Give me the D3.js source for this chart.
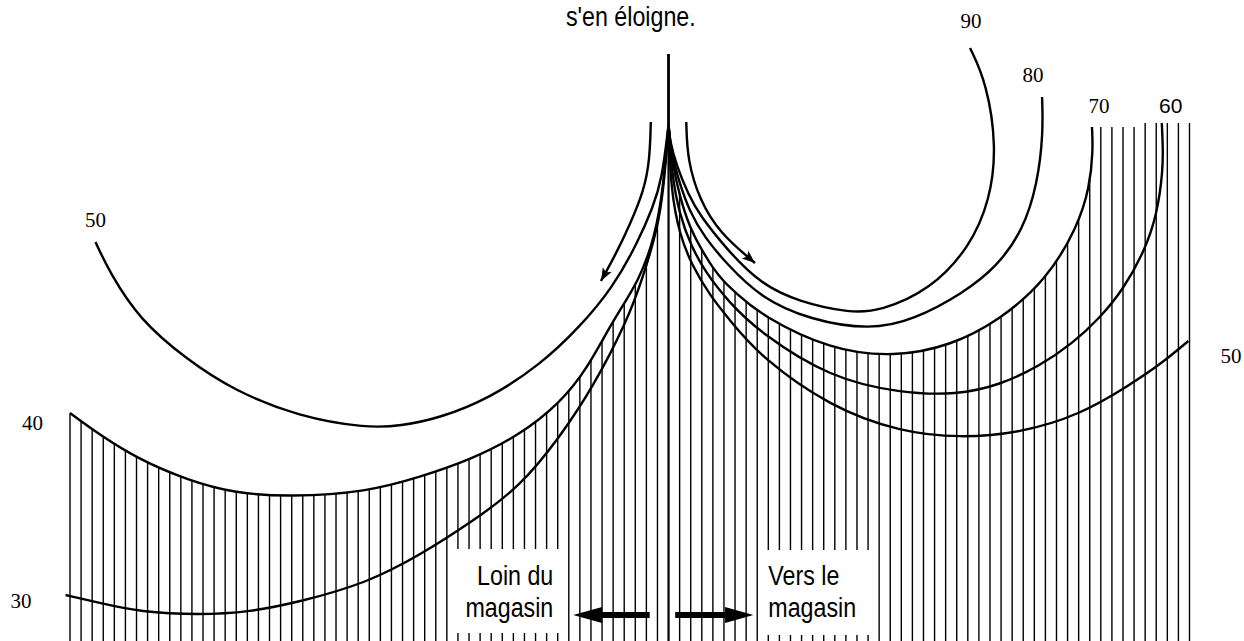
<!DOCTYPE html>
<html lang="fr">
<head>
<meta charset="UTF-8">
<title>Loin du magasin / Vers le magasin</title>
<script src="https://cdn.jsdelivr.net/npm/d3@7"></script>
<style>
  html, body { margin: 0; padding: 0; background: #fff; }
  svg { display: block; }
</style>
</head>
<body>
<svg id="chart" width="1244" height="641"></svg>
<script>
// x : position along the street, in hatch steps from the centre line
// y : height above the bottom edge
const left50 = [[0,516],[-0.6,461],[-1.4,434],[-2.8,398],[-5.0,354],[-8.0,314],[-11.6,276],[-16.1,243],[-20.6,223],[-24.2,215],[-27.2,213],[-33.3,224],[-39.3,251],[-43.4,281],[-47.7,321],[-50.4,368],[-51.7,399]];
const left40 = [[0,516],[-0.5,451],[-1.2,406],[-2.6,361],[-5.0,321],[-7.4,271],[-9.8,238],[-13.4,206],[-17.9,181],[-22.4,164],[-27.2,149],[-34.1,144],[-39.3,148],[-43.4,161],[-47.7,181],[-51.3,206],[-54.0,228]];
const left30 = [[0,516],[-0.4,456],[-1.0,411],[-2.4,361],[-3.7,321],[-6.8,254],[-9.8,204],[-13.4,154],[-17.9,118],[-22.4,86],[-27.2,58],[-33.3,39],[-37.8,29],[-42.3,26],[-47.7,29],[-51.3,38],[-54.4,46]];
const right90 = [[0,516],[0.1,501],[0.7,476],[1.8,446],[2.8,426],[5.3,391],[8.3,357],[11.8,339],[16.4,328],[19.1,330],[23.6,351],[27.2,394],[29.0,441],[29.6,494],[28.7,558],[27.2,593]];
const right80 = [[0,516],[0.2,491],[0.9,461],[1.9,429],[3.3,403],[5.1,379],[8.3,343],[12.8,321],[18.2,311],[22.1,321],[26.6,348],[29.6,374],[32.0,411],[33.3,458],[33.8,508],[33.7,544]];
const right70 = [[0,516],[0.3,481],[1.0,444],[2.0,411],[3.0,391],[4.0,373],[5.0,359],[6.1,348],[8.3,326],[14.6,291],[20.4,284],[25.4,295],[29.9,321],[34.1,361],[36.9,414],[38.0,454],[38.3,491],[38.2,514]];
const right60 = [[0,516],[0.3,466],[1.0,426],[2.0,396],[3.3,369],[5.5,338],[8.3,308],[14.6,263],[20.9,248],[26.0,246],[29.9,256],[33.5,275],[36.5,298],[38.9,323],[41.0,351],[43.0,391],[44.1,428],[44.6,471],[44.6,494],[44.5,518]];
const right50 = [[0,516],[0.2,451],[1.0,406],[2.1,376],[3.7,346],[5.5,321],[8.3,284],[14.6,234],[20.9,209],[26.3,203],[31.7,208],[37.1,226],[41.6,256],[44.3,276],[46.9,300]];

// short arcs showing the direction of movement
const arrowLeft = [[-1.6,519],[-1.7,481],[-2.2,451],[-3.5,416],[-4.8,386],[-6.1,360]];
const arrowRight = [[1.6,519],[1.7,481],[2.8,441],[4.6,408],[7.8,378]];

// hatching: one line per step, centre line rises to the stem top
const hatchSteps = d3.range(-54, 48);
const stemTop = 587;
const capSteps = [39, 40, 41, 42, 43, 44, 45, 46, 47];
const capHeights = [514, 514, 514, 514, 518, 518, 518, 518, 518];

const curveLabels = ['50', '40', '30', '90', '80', '70', '60', '50'];
const title = "s'en éloigne.";
const awayText = ['Loin du', 'magasin'];
const towardText = ['Vers le', 'magasin'];

const svg = d3.select('#chart');
const x = d3.scaleLinear().domain([-54, 47]).range([70, 1189.5]);
const y = d3.scaleLinear().domain([0, 641]).range([641, 0]);

const line = d3.line().x(d => x(d[0])).y(d => y(d[1])).curve(d3.curveBasis);

const curves = [
  { pts: left50,  label: curveLabels[0], dx: 0,   dy: -15, anchor: 'middle', serif: true },
  { pts: left40,  label: curveLabels[1], dx: -27, dy: 17,  anchor: 'end',    serif: true },
  { pts: left30,  label: curveLabels[2], dx: -34, dy: 13,  anchor: 'end',    serif: true },
  { pts: right90, label: curveLabels[3], dx: 1,   dy: -20, anchor: 'middle', serif: true },
  { pts: right80, label: curveLabels[4], dx: -9,  dy: -15, anchor: 'middle', serif: true },
  { pts: right70, label: curveLabels[5], dx: 7,   dy: -14, anchor: 'middle', serif: true },
  { pts: right60, label: curveLabels[6], dx: 9,   dy: -10, anchor: 'middle', serif: false },
  { pts: right50, label: curveLabels[7], dx: 32,  dy: 22,  anchor: 'start',  serif: true }
];

// sample an envelope path so each hatch line stops on it
function envelope(pts) {
  const p = svg.append('path').attr('d', line(pts)).attr('fill', 'none').attr('stroke', 'none');
  const node = p.node();
  const len = node.getTotalLength();
  const samples = d3.range(0, len, 0.4).map(l => node.getPointAtLength(l));
  p.remove();
  return px => {
    let best = samples[0];
    for (const s of samples) {
      if (Math.abs(s.x - px) < Math.abs(best.x - px)) best = s;
    }
    return best.y;
  };
}
const leftTop = envelope(left40);
const rightTop = envelope(right70);

const hatch = svg.append('g').attr('stroke', '#000');
hatchSteps.forEach(s => {
  const px = x(s);
  let top;
  if (s < 0) top = leftTop(px);
  else if (s === 0) top = y(stemTop);
  else if (capSteps.includes(s)) top = y(capHeights[capSteps.indexOf(s)]);
  else top = rightTop(px);
  hatch.append('line')
    .attr('x1', px).attr('x2', px)
    .attr('y1', y(0)).attr('y2', top)
    .attr('stroke-width', s === 0 ? 2.2 : 1.4);
});

// white boxes behind the direction texts
svg.append('rect').attr('x', x(-19.7)).attr('y', y(92))
  .attr('width', x(-9.5) - x(-19.7)).attr('height', y(8) - y(92)).attr('fill', '#fff');
svg.append('rect').attr('x', x(8.5)).attr('y', y(91))
  .attr('width', x(18.4) - x(8.5)).attr('height', y(6) - y(91)).attr('fill', '#fff');

// condensed sans text (no narrow face installed, so squeeze horizontally)
const sans = "'Liberation Sans Narrow', 'Arial Narrow', 'Liberation Sans', Arial, sans-serif";
const serif = "'Liberation Serif', 'Times New Roman', serif";
function narrowText(px, py, str, anchor) {
  svg.append('text')
    .attr('transform', `translate(${px},${py}) scale(0.83,1)`)
    .attr('font-family', sans).attr('font-size', 28).attr('fill', '#000')
    .attr('text-anchor', anchor).text(str);
}
awayText.forEach((t, i) => narrowText(x(-10.4), y(56 - i * 32), t, 'end'));
towardText.forEach((t, i) => narrowText(x(9.0), y(56 - i * 32), t, 'start'));
narrowText(x(-3.4), y(615), title, 'middle');

// thick direction arrows at the bottom
function bigArrow(from, stop, tip) {
  const yc = y(26);
  svg.append('line').attr('x1', x(from)).attr('x2', x(stop)).attr('y1', yc).attr('y2', yc)
    .attr('stroke', '#000').attr('stroke-width', 6);
  svg.append('path')
    .attr('d', `M${x(tip)},${yc} L${x(stop)},${yc - 8} L${x(stop)},${yc + 8} Z`)
    .attr('fill', '#000');
}
bigArrow(-1.7, -6.0, -8.6);
bigArrow(0.6, 5.1, 7.65);

// arrowhead marker for the movement arcs
svg.append('defs').append('marker')
  .attr('id', 'head').attr('markerUnits', 'userSpaceOnUse')
  .attr('viewBox', '-14 -6 16 12').attr('refX', 0).attr('refY', 0)
  .attr('markerWidth', 16).attr('markerHeight', 12).attr('orient', 'auto')
  .append('path').attr('d', 'M0,0 L-13,-5 L-10,0 L-13,5 Z').attr('fill', '#000');

const curveG = svg.append('g').attr('fill', 'none').attr('stroke', '#000').attr('stroke-width', 2.4);
curveG.selectAll('path.c').data(curves).join('path').attr('class', 'c').attr('d', d => line(d.pts));
curveG.selectAll('path.a').data([arrowLeft, arrowRight]).join('path').attr('class', 'a')
  .attr('d', d => line(d)).attr('marker-end', 'url(#head)');

// stem above the cusp
svg.append('line').attr('x1', x(0)).attr('x2', x(0)).attr('y1', y(stemTop)).attr('y2', y(516))
  .attr('stroke', '#000').attr('stroke-width', 2.6);

svg.selectAll('text.lab').data(curves).join('text').attr('class', 'lab')
  .attr('x', d => x(d.pts[d.pts.length - 1][0]) + d.dx)
  .attr('y', d => y(d.pts[d.pts.length - 1][1]) + d.dy)
  .attr('text-anchor', d => d.anchor)
  .attr('font-family', d => d.serif ? serif : "'Liberation Sans', Arial, sans-serif")
  .attr('font-size', 21)
  .text(d => d.label);
</script>
</body>
</html>
